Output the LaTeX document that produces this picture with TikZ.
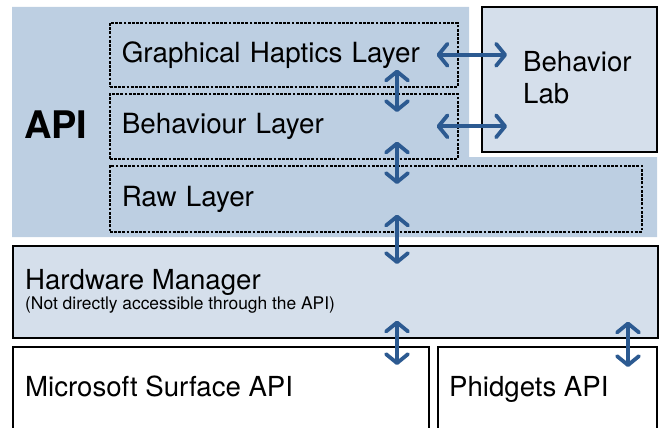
\documentclass[tikz,border=0pt]{standalone}
\usepackage{fontspec}
\setmainfont{TeX Gyre Heros}
\usetikzlibrary{arrows.meta, positioning, calc}
\definecolor{CApi}{HTML}{BDCFE2}
\definecolor{CPale}{HTML}{D5DFEB}
\definecolor{CArrow}{HTML}{2C5A91}
\tikzset{
    layer/.style={draw=black, dash pattern=on 2.8pt off 1.4pt, line width=1.6pt,
        anchor=north west, inner xsep=12pt, inner ysep=0pt, align=left,
        text height=20pt, text depth=5pt, font=\fontsize{27.8}{30}\selectfont},
    solidbox/.style={draw=black, line width=1.6pt, anchor=north west, inner sep=0pt},
    txt/.style={anchor=base west, inner sep=0pt, font=\fontsize{27.6}{30}\selectfont},
    link/.style={CArrow, line width=3.8pt,
        {Straight Barb[length=9pt, width=22pt, round]}-{Straight Barb[length=9pt, width=22pt, round]}}
}

\begin{document}
\begin{tikzpicture}[x=1pt, y=-1pt]
    \useasboundingbox (0,0) rectangle (659,428);

    % --- 1. API REGION ---
    \fill[CApi] (12,7) -- (469,7) -- (469,157) -- (657,157) -- (657,237) -- (12,237) -- cycle;
    \node[txt, font=\fontsize{38}{40}\selectfont\bfseries] (api) at (24,138) {API};

    % --- 2. LAYERS ---
    \node[layer, minimum height=64pt, text width=324pt] (ghl) at (109,22) {Graphical Haptics Layer};
    \node[layer, minimum height=65pt, text width=324pt] (bl) at (109,93) {Behaviour Layer};
    \node[layer, minimum height=66pt, text width=508pt] (raw) at (109,165) {Raw Layer};

    % Behavior Lab (Right)
    \node[solidbox, fill=CPale, minimum width=175pt, minimum height=145pt] (lab) at (481,6) {};
    \node[txt] (labtop) at (523,71) {Behavior};
    \node[txt] (labbot) at (523,103) {Lab};

    % --- 3. HARDWARE ---
    \node[solidbox, fill=CPale, minimum width=645pt, minimum height=92pt] (hw) at (12,245) {};
    \node[txt] (hwname) at (25,289) {Hardware Manager};
    \node[txt, font=\fontsize{17.4}{19}\selectfont] (hwnote) at (25,309) {(Not directly accessible through the API)};

    \node[solidbox, fill=white, minimum width=416pt, minimum height=92pt] (ms) at (12,346) {};
    \node[txt] (msname) at (25,396) {Microsoft Surface API};
    \node[solidbox, fill=white, minimum width=219pt, minimum height=92pt] (ph) at (437,346) {};
    \node[txt] (phname) at (449,396) {Phidgets API};

    % --- 4. ARROWS ---
    \coordinate (spine) at (397,0);
    \coordinate (side) at (628,0);
    \draw[link] ([xshift=-22pt]ghl.east) -- ($(ghl.east -| lab.west)+(26,0)$);
    \draw[link] ([xshift=-22pt]bl.east) -- ($(bl.east -| lab.west)+(26,0)$);
    \foreach \ua/\ub in {ghl/bl, bl/raw, raw/hw, hw/ms} {
        \draw[link] ($(\ua.south -| spine)+(0,-18)$) -- ($(\ub.north -| spine)+(0,19)$);
    }
    \draw[link] ($(hw.south -| side)+(0,-17)$) -- ($(ph.north -| side)+(0,21)$);

\end{tikzpicture}
\end{document}
